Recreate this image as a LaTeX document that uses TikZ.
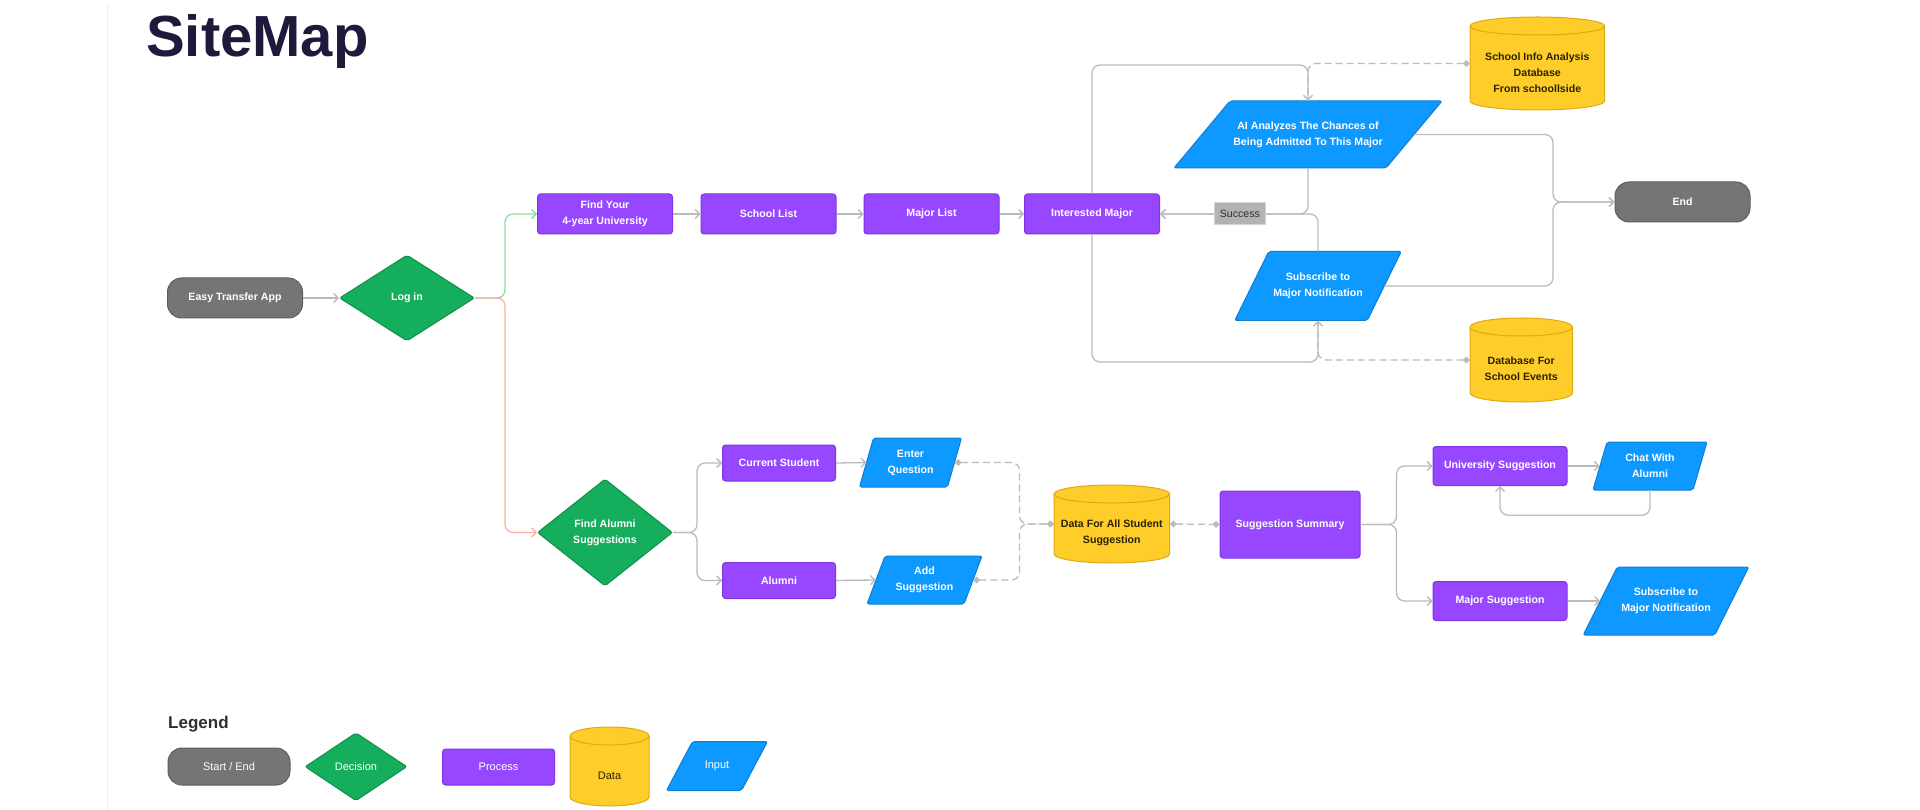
\documentclass[tikz,border=0pt]{standalone}
\usepackage{fontspec}
\setmainfont{Liberation Sans}
\usetikzlibrary{arrows.meta,shapes.geometric}
\definecolor{gfill}{HTML}{757575}
\definecolor{gline}{HTML}{5E5E5E}
\definecolor{pfill}{HTML}{9747FF}
\definecolor{pline}{HTML}{7F36E0}
\definecolor{dfill}{HTML}{14AE5C}
\definecolor{dline}{HTML}{0F8F4A}
\definecolor{ifill}{HTML}{0D99FF}
\definecolor{iline}{HTML}{0B7FD6}
\definecolor{yfill}{HTML}{FFCD29}
\definecolor{yline}{HTML}{DDAA14}
\definecolor{ytext}{HTML}{2B2300}
\definecolor{cgray}{HTML}{BBBBBB}
\definecolor{cgreen}{HTML}{85E0A3}
\definecolor{cred}{HTML}{FFAFA3}
\definecolor{titlec}{HTML}{1E1A3C}
\definecolor{legendc}{HTML}{2F2F2F}
\definecolor{sfill}{HTML}{B3B3B3}
\definecolor{sline}{HTML}{D4D4D4}
\definecolor{edgec}{HTML}{EEEEEE}
\tikzset{
  base/.style={font=\bfseries\fontsize{10.6}{15.8}\selectfont, text=white, align=center, inner sep=0pt},
  lbase/.style={font=\fontsize{11}{13}\selectfont, text=white, align=center, inner sep=0pt},
  term/.style={rectangle, rounded corners=14pt, fill=gfill, draw=gline, line width=1pt},
  proc/.style={rectangle, rounded corners=3pt, fill=pfill, draw=pline, line width=1pt},
  dec/.style={diamond, rounded corners=2pt, fill=dfill, draw=dline, line width=1pt},
  ishape/.style={fill=ifill, draw=iline, line width=1pt, rounded corners=2pt},
  yshape/.style={fill=yfill, draw=yline, line width=1pt},
  conn/.style={draw=cgray, line width=1.3pt, rounded corners=8pt, -{Straight Barb[length=4.5pt,width=9pt]}},
  connG/.style={conn, draw=cgreen},
  connR/.style={conn, draw=cred},
  dconn/.style={draw=cgray, line width=1.3pt, rounded corners=8pt, dash pattern=on 7pt off 4pt, {Diamond[length=7pt,width=7pt]}-},
  dconnb/.style={draw=cgray, line width=1.3pt, rounded corners=8pt, dash pattern=on 7pt off 4pt, {Diamond[length=7pt,width=7pt]}-{Diamond[length=7pt,width=7pt]}},
  succ/.style={rectangle, sharp corners, solid, fill=sfill, draw=sline, line width=1pt, text=legendc, font=\fontsize{10.6}{12}\selectfont, minimum width=51pt, minimum height=22pt, inner sep=0pt}
}
% parallelogram: name, cx, cy, midline width, height, offset, style, text
\newcommand\inputnode[8]{%
  \path[ishape] ({#2-#4/2+#6/2},{#3-#5/2}) -- ({#2+#4/2+#6/2},{#3-#5/2}) -- ({#2+#4/2-#6/2},{#3+#5/2}) -- ({#2-#4/2-#6/2},{#3+#5/2}) -- cycle;
  \node[#7, minimum width=#4pt, minimum height=#5pt] (#1) at (#2,#3) {#8};}
% cylinder: name, x1, y1, x2, y2, rx, style, text
\newcommand\dbnode[8]{%
  \path[yshape] (#2,{#3+9}) -- (#2,{#5-9}) arc[start angle=180, end angle=360, x radius=#6pt, y radius=9pt] -- (#4,{#3+9}) arc[start angle=0, end angle=180, x radius=#6pt, y radius=9pt] -- cycle;
  \draw[yline, line width=1pt] (#2,{#3+9}) arc[start angle=180, end angle=360, x radius=#6pt, y radius=9pt];
  \node[inner sep=0pt, minimum width={#4pt-#2pt}, minimum height={#5pt-#3pt}] (#1) at ({(#2+#4)/2},{(#3+#5)/2}) {};
  \node[#7, text=ytext] (#1t) at ([yshift=-9pt]#1.center) {#8};}
\begin{document}
\begin{tikzpicture}[x=1pt, y=-1pt]
\useasboundingbox (0,0) rectangle (1920,810);
\fill[white] (0,0) rectangle (1920,810);
\draw[edgec, line width=1pt] (107,5) -- (107,810);

\node[anchor=base west, font=\bfseries\fontsize{58}{60}\selectfont, text=titlec, inner sep=0pt] (title) at (146,57) {SiteMap};

% top flow
\node[term, base, minimum width=135pt, minimum height=40pt] (start) at (235,298) {Easy Transfer App};
\node[dec, base, minimum width=135pt, minimum height=86pt] (login) at (407,298) {Log in};
\node[proc, base, minimum width=135pt, minimum height=40pt] (find) at (605,214) {Find Your\\4-year University};
\node[proc, base, minimum width=135pt, minimum height=40pt] (school) at (768.5,214) {School List};
\node[proc, base, minimum width=135pt, minimum height=40pt] (major) at (931.5,214) {Major List};
\node[proc, base, minimum width=135pt, minimum height=40pt] (im) at (1092,214) {Interested Major};
\inputnode{ai}{1308}{134.5}{212}{67}{56}{base}{AI Analyzes The Chances of\\Being Admitted To This Major}
\dbnode{db1}{1470}{17}{1604.6}{110}{67.3}{base}{School Info Analysis\\Database\\From schoollside}
\node[term, base, minimum width=135pt, minimum height=40pt] (end) at (1682.5,202) {End};
\inputnode{sub1}{1318}{286}{132.5}{69}{34}{base}{Subscribe to\\Major Notification}
\dbnode{db2}{1470}{318}{1572.5}{402}{51.25}{base}{Database For\\School Events}

% bottom flow
\node[dec, base, minimum width=135pt, minimum height=107pt] (fa) at (605,532.5) {Find Alumni\\Suggestions};
\node[proc, base, minimum width=113pt, minimum height=36pt] (cs) at (779,463) {Current Student};
\node[proc, base, minimum width=113pt, minimum height=36pt] (al) at (779,580.5) {Alumni};
\inputnode{eq}{910.5}{462.5}{88}{49}{14}{base}{Enter\\Question}
\inputnode{as}{924.5}{580}{97}{48}{18}{base}{Add\\Suggestion}
\dbnode{db3}{1054}{485}{1169.6}{563}{57.8}{base}{Data For All Student\\Suggestion}
\node[proc, base, minimum width=140pt, minimum height=67pt] (ss) at (1290,524.5) {Suggestion Summary};
\node[proc, base, minimum width=134pt, minimum height=39pt] (us) at (1500,466) {University Suggestion};
\node[proc, base, minimum width=134pt, minimum height=39pt] (ms) at (1500,601) {Major Suggestion};
\inputnode{ca}{1650}{466}{100}{48}{14}{base}{Chat With\\Alumni}
\inputnode{sb2}{1666}{601}{131.5}{68}{34}{base}{Subscribe to\\Major Notification}

% legend
\node[anchor=base west, font=\bfseries\fontsize{17}{20}\selectfont, text=legendc, inner sep=0pt] (legend) at (168,728) {Legend};
\node[term, lbase, minimum width=122pt, minimum height=37pt] (lgs) at (229,766.5) {Start / End};
\node[dec, lbase, minimum width=102pt, minimum height=68pt] (lgd) at (356,766.7) {Decision};
\node[proc, lbase, minimum width=112pt, minimum height=36pt] (lgp) at (498.6,767) {Process};
\dbnode{lgdata}{570}{727}{649}{806}{39.5}{lbase}{Data}
\inputnode{lgi}{717}{766}{75}{49}{26}{lbase}{Input}

% connectors top
\draw[conn] (start.east) -- (login.west);
\draw[connG] (login.east) -- ++(30,0) |- (find.west);
\draw[connR] (login.east) -- ++(30,0) |- (fa.west);
\draw[conn] (find.east) -- (school.west);
\draw[conn] (school.east) -- (major.west);
\draw[conn] (major.east) -- (im.west);
\coordinate (toploop) at (1200,65);
\draw[conn] (im.north) |- (toploop) -| (ai.north);
\draw[dconn] (db1.west) -| (ai.north);
\draw[conn] (sub1.north) |- (im.east);
\draw[conn] (ai.south) |- node[succ, pos=0.73] (succ) {Success} (im.east);
\coordinate (botloop) at (1200,362);
\draw[conn] (im.south) |- (botloop) -| (sub1.south);
\draw[dconn] (db2.west) -| (sub1.south);
\coordinate (ej) at (1553,202);
\draw[conn] (ai.east) -| (ej) -- (end.west);
\draw[conn] (sub1.east) -| (ej) -- (end.west);

% connectors bottom
\draw[conn] (fa.east) -- ++(24,0) |- (cs.west);
\draw[conn] (fa.east) -- ++(24,0) |- (al.west);
\draw[conn] (cs.east) -- (eq.west);
\draw[conn] (al.east) -- (as.west);
\coordinate (dj) at (1019.5,524);
\draw[dconnb] (eq.east) -| (dj) -- (db3.west);
\draw[dconnb] (as.east) -| (dj) -- (db3.west);
\draw[dconnb] (db3.east) -- (ss.west);
\draw[conn] (ss.east) -- ++(36,0) |- (us.west);
\draw[conn] (ss.east) -- ++(36,0) |- (ms.west);
\draw[conn] (us.east) -- (ca.west);
\draw[conn] (ca.south) -- ++(0,25) -| (us.south);
\draw[conn] (ms.east) -- (sb2.west);
\end{tikzpicture}
\end{document}
